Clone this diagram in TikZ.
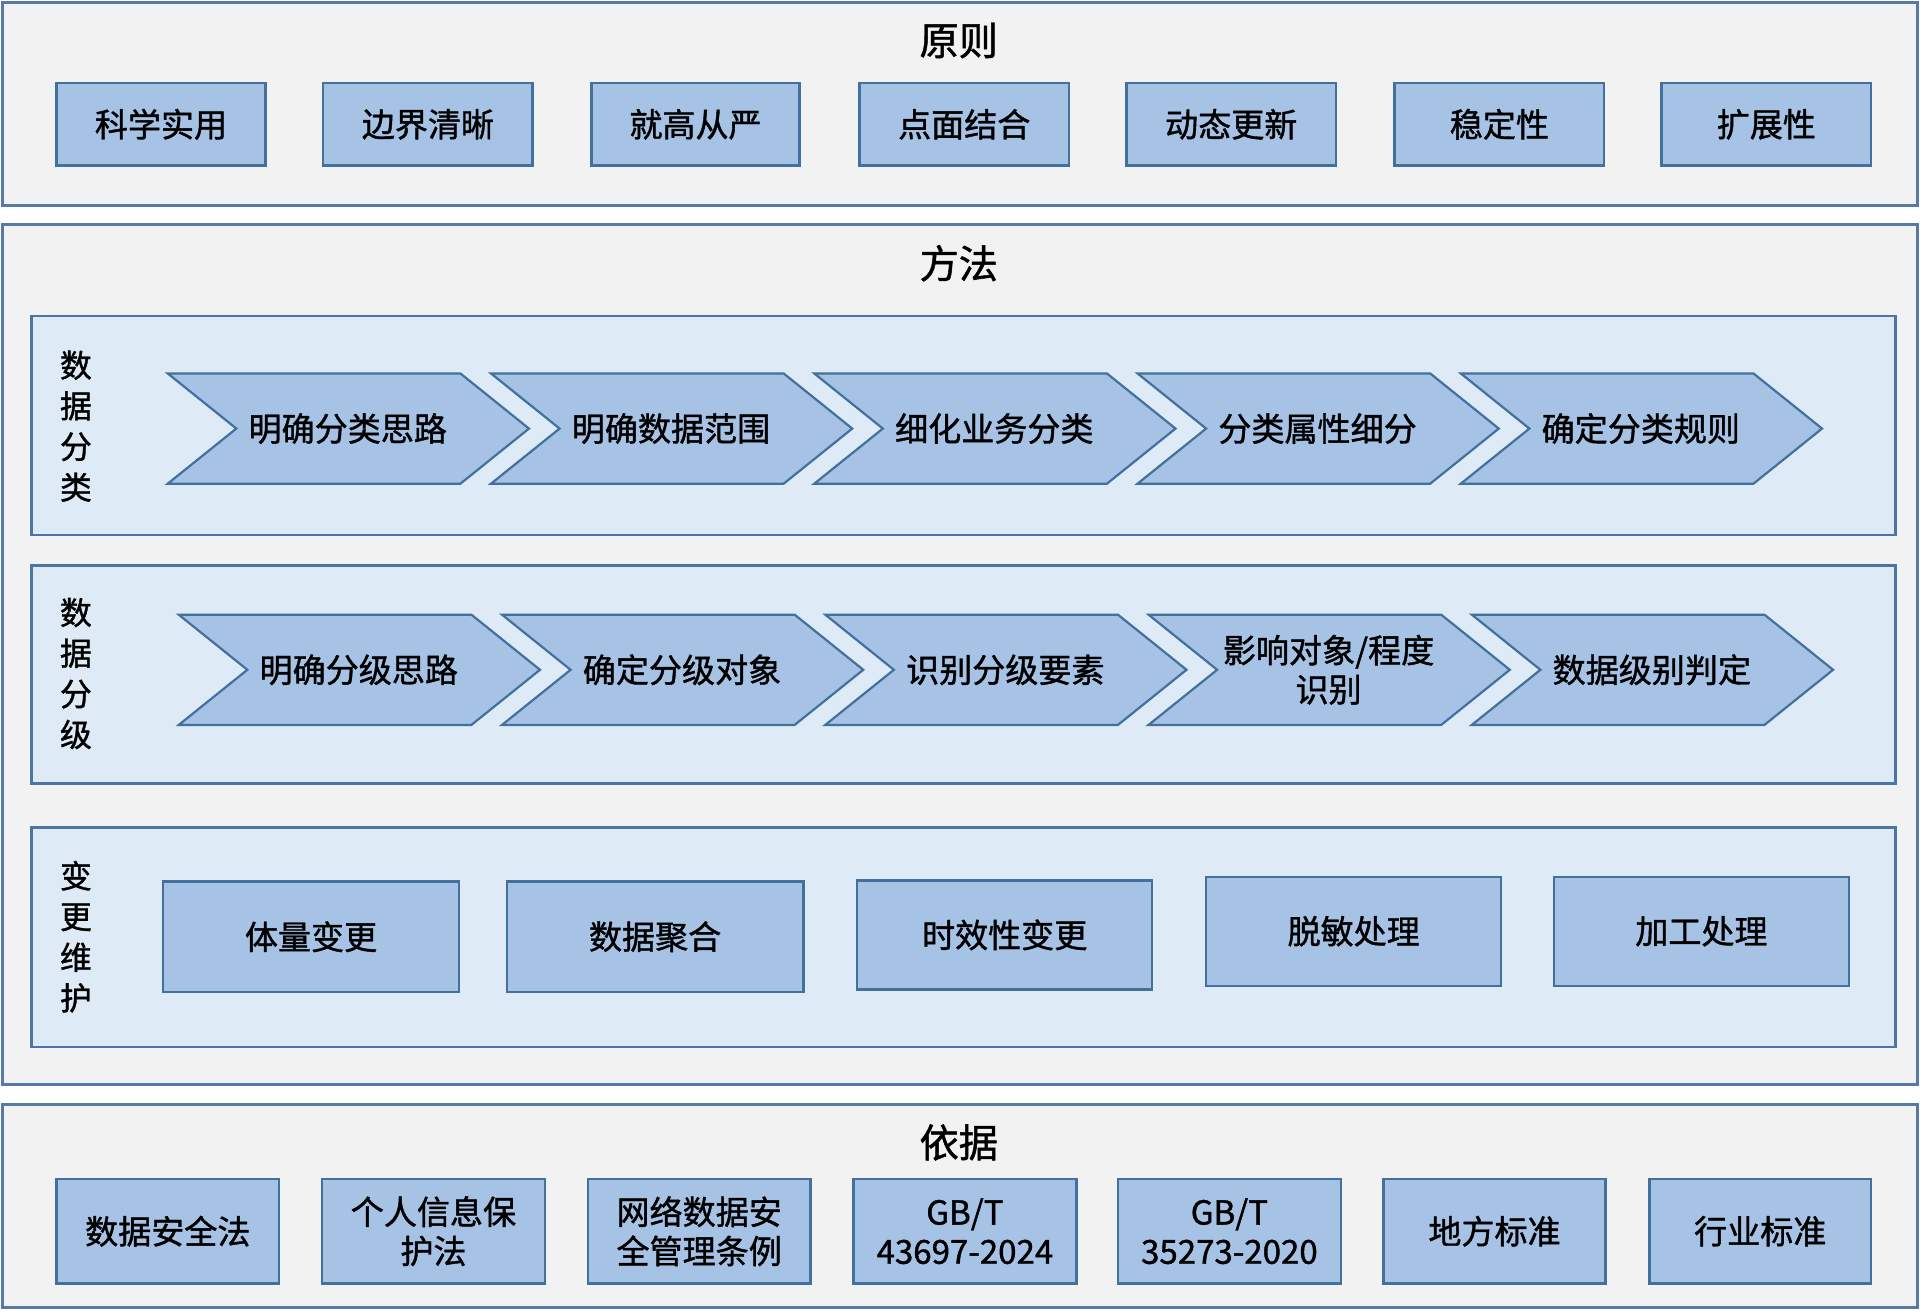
\documentclass[tikz,border=0pt]{standalone}
\usepackage{fontspec}
\newfontfamily\cjk[FakeBold=1.2]{Noto Sans CJK SC}
\newfontfamily\cjkt{Noto Sans CJK SC}
\definecolor{outerfill}{HTML}{F2F2F2}
\definecolor{outerdraw}{HTML}{5679A5}
\definecolor{panelfill}{HTML}{DEEAF6}
\definecolor{paneldraw}{HTML}{4A76A6}
\definecolor{boxfill}{HTML}{A6C3E6}
\definecolor{boxdraw}{HTML}{41719C}
\tikzset{
  outerbox/.style={draw=outerdraw,fill=outerfill,line width=1.2pt},
  panelbox/.style={draw=paneldraw,fill=panelfill,line width=1.1pt},
  cellbox/.style={draw=boxdraw,fill=boxfill,line width=1pt,inner sep=0pt,align=center,font=\cjk\fontsize{13.5}{16}\selectfont},
  chevshape/.style={draw=boxdraw,fill=boxfill,line width=0.9pt,line join=miter},
  chevtext/.style={inner sep=0pt,align=center,font=\cjk\fontsize{13.5}{16}\selectfont},
  titletext/.style={inner sep=0pt,font=\cjk\fontsize{16}{18}\selectfont},
  vlabel/.style={inner sep=0pt,align=center,font=\cjk\fontsize{13}{16.6}\selectfont},
}
% chevron: name, left x, centre y, text
\newcommand\mychev[4]{%
  \draw[chevshape] (#2,#3-45) -- (#2+239,#3-45) -- (#2+295,#3) -- (#2+239,#3+45) -- (#2,#3+45) -- (#2+56,#3) -- cycle;
  \node[chevtext] (#1) at (#2+147,#3) {#4};
}
% rectangle cell: name, x1, y1, x2, y2, text
\newcommand\mycell[6]{%
  \node[cellbox,minimum width={(#4-#2)*0.5pt},minimum height={(#5-#3)*0.5pt}] (#1) at ({(#2+#4)/2},{(#3+#5)/2}) {#6};
}
\begin{document}
\begin{tikzpicture}[x=0.5pt,y=-0.5pt]
\useasboundingbox (0,0) rectangle (1568,1070);
% ---------- 原则 ----------
\draw[outerbox] (2,2) rectangle (1566,168);
\node[titletext] (tp) at (783,33) {原则};
\mycell{p1}{46}{68}{217}{135}{科学实用}
\mycell{p2}{264}{68}{435}{135}{边界清晰}
\mycell{p3}{483}{68}{653}{135}{就高从严}
\mycell{p4}{702}{68}{873}{135}{点面结合}
\mycell{p5}{920}{68}{1091}{135}{动态更新}
\mycell{p6}{1139}{68}{1310}{135}{稳定性}
\mycell{p7}{1357}{68}{1528}{135}{扩展性}
% ---------- 方法 ----------
\draw[outerbox] (2,183) rectangle (1566,886);
\node[titletext] (tm) at (783,215) {方法};
% panel 1
\draw[panelbox] (26,258) rectangle (1548,437);
\node[vlabel] (l1) at (62,348) {数\\据\\分\\类};
\mychev{a1}{137}{350}{明确分类思路}
\mychev{a2}{401}{350}{明确数据范围}
\mychev{a3}{665}{350}{细化业务分类}
\mychev{a4}{929}{350}{分类属性细分}
\mychev{a5}{1193}{350}{确定分类规则}
% panel 2
\draw[panelbox] (26,462) rectangle (1548,640);
\node[vlabel] (l2) at (62,550) {数\\据\\分\\级};
\mychev{b1}{146}{547}{明确分级思路}
\mychev{b2}{410}{547}{确定分级对象}
\mychev{b3}{674}{547}{识别分级要素}
\mychev{b4}{938}{547}{影响对象/程度\\识别}
\mychev{b5}{1202}{547}{数据级别判定}
% panel 3
\draw[panelbox] (26,676) rectangle (1548,855);
\node[vlabel] (l3) at (62,765) {变\\更\\维\\护};
\mycell{c1}{133}{720}{375}{810}{体量变更}
\mycell{c2}{414}{720}{656}{810}{数据聚合}
\mycell{c3}{700}{719}{941}{808}{时效性变更}
\mycell{c4}{985}{716}{1226}{805}{脱敏处理}
\mycell{c5}{1269}{716}{1510}{805}{加工处理}
% ---------- 依据 ----------
\draw[outerbox] (2,902) rectangle (1566,1068);
\node[titletext] (tb) at (783,933) {依据};
\mycell{d1}{46}{963}{228}{1048}{数据安全法}
\mycell{d2}{263}{963}{445}{1048}{个人信息保\\护法}
\mycell{d3}{480}{963}{662}{1048}{网络数据安\\全管理条例}
\mycell{d4}{697}{963}{879}{1048}{GB/T\\43697-2024}
\mycell{d5}{913}{963}{1095}{1048}{GB/T\\35273-2020}
\mycell{d6}{1130}{963}{1311}{1048}{地方标准}
\mycell{d7}{1347}{963}{1528}{1048}{行业标准}
\end{tikzpicture}
\end{document}
